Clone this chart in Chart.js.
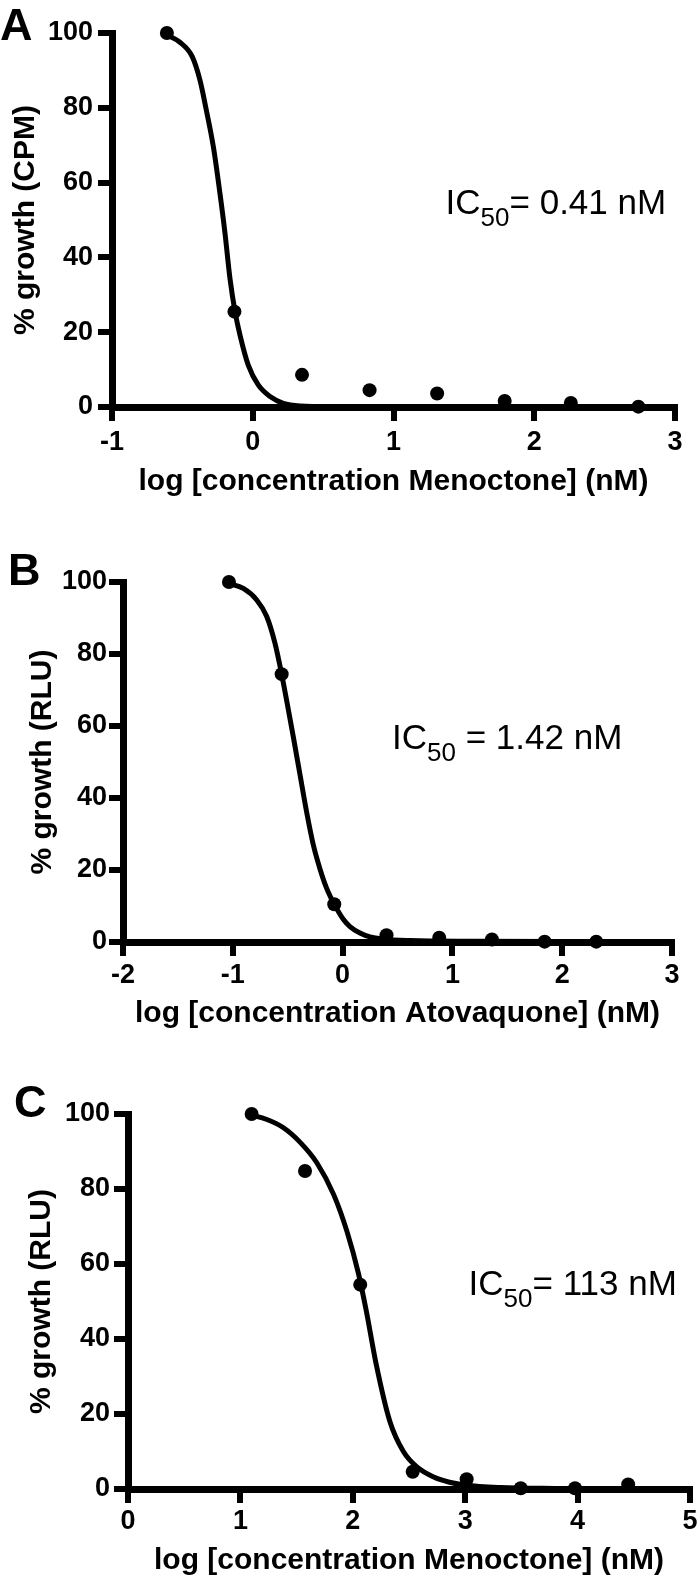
<!DOCTYPE html>
<html>
<head>
<meta charset="utf-8">
<script src="https://cdn.jsdelivr.net/npm/chart.js@4.4.1/dist/chart.umd.min.js"></script>
<style>
  body { margin: 0; background: #fff; }
  canvas { position: absolute; left: 0; }
</style>
</head>
<body>
<canvas id="chartA" width="700" height="525" style="top:0"></canvas>
<canvas id="chartB" width="700" height="525" style="top:525px"></canvas>
<canvas id="chartC" width="700" height="529" style="top:1050px"></canvas>
<script>
// ---- panel A: menoctone, CPM ----
const aDoseLog = [-0.61, -0.13, 0.35, 0.83, 1.31, 1.79, 2.26, 2.74];
const aGrowth = [100, 25.5, 8.6, 4.5, 3.6, 1.6, 1.1, 0.1];
const aFitLog = [-0.61, -0.52, -0.43, -0.375, -0.33, -0.28, -0.233, -0.197, -0.162, -0.126, -0.091, -0.032, 0.039, 0.123, 0.217, 0.336, 0.6, 1.2, 2.0, 2.74];
const aFitGrowth = [99.5, 97.6, 93.7, 87.4, 79.4, 69.6, 57.1, 46.4, 34.4, 25.5, 19.3, 11.2, 5.9, 2.8, 1.0, 0.3, 0.1, 0.05, 0.02, 0.01];
const aXTicks = [-1, 0, 1, 2, 3];

// ---- panel B: atovaquone, RLU ----
const bDoseLog = [-1.035, -0.555, -0.076, 0.40, 0.88, 1.36, 1.84, 2.31];
const bGrowth = [100, 74.4, 10.5, 1.9, 1.2, 0.7, 0.1, 0.1];
const bFitLog = [-1.035, -0.904, -0.782, -0.691, -0.616, -0.555, -0.509, -0.449, -0.388, -0.327, -0.267, -0.206, -0.145, -0.076, 0.006, 0.067, 0.158, 0.25, 0.371, 0.614, 1.2, 2.31];
const bFitGrowth = [99.6, 98.2, 95, 90.4, 83, 74.4, 67, 57, 46.5, 36, 27, 20.3, 14.9, 10.5, 6.3, 4.3, 2.5, 1.4, 0.8, 0.4, 0.2, 0.1];
const bXTicks = [-2, -1, 0, 1, 2, 3];

// ---- panel C: menoctone, RLU ----
const cDoseLog = [1.10, 1.575, 2.066, 2.533, 3.013, 3.494, 3.977, 4.45];
const cGrowth = [100, 84.8, 54.5, 4.6, 2.6, 0.2, 0.2, 1.2];
const cFitLog = [1.10, 1.23, 1.38, 1.53, 1.68, 1.83, 1.95, 2.05, 2.12, 2.21, 2.33, 2.45, 2.57, 2.72, 2.86, 3.01, 3.31, 3.8, 4.45];
const cFitGrowth = [99.7, 98.6, 96.4, 92.5, 87, 78.5, 68.5, 57.5, 47.5, 33, 18, 10, 5.9, 3.2, 1.8, 1.0, 0.4, 0.15, 0.05];
const cXTicks = [0, 1, 2, 3, 4, 5];

const yTicks = [0, 20, 40, 60, 80, 100];
const xTitles = ["log [concentration Menoctone] (nM)", "log [concentration Atovaquone] (nM)", "log [concentration Menoctone] (nM)"];
const yTitles = ["% growth (CPM)", "% growth (RLU)", "% growth (RLU)"];
const icValues = ["= 0.41 nM", " = 1.42 nM", "= 113 nM"];

const FONT = '"Liberation Sans", Arial, Helvetica, sans-serif';
Chart.defaults.font.family = FONT;
Chart.defaults.color = '#000';

// panel letter + IC50 note
const notePlugin = {
  id: 'note',
  afterDraw(chart, args, o) {
    const ctx = chart.ctx;
    ctx.save();
    ctx.fillStyle = '#000';
    ctx.textBaseline = 'alphabetic';
    ctx.font = 'bold 45px ' + FONT;
    ctx.fillText(o.letter, o.letterX, o.letterY);

    let px = chart.scales.x.getPixelForValue(o.noteX);
    const py = chart.scales.y.getPixelForValue(o.noteY) + 12.5;
    ctx.font = '35px ' + FONT;
    ctx.fillText('IC', px, py);
    px += ctx.measureText('IC').width;
    ctx.font = '26px ' + FONT;
    ctx.fillText('50', px, py + 12);
    px += ctx.measureText('50').width;
    ctx.font = '35px ' + FONT;
    ctx.fillText(o.text, px, py);
    ctx.restore();
  }
};

function toXY(xs, ys) {
  return xs.map((v, i) => ({ x: v, y: ys[i] }));
}

function makePanel(id, p) {
  new Chart(document.getElementById(id), {
    type: 'scatter',
    data: {
      datasets: [{
        data: toXY(p.doseLog, p.growth),
        pointRadius: 7,
        pointBackgroundColor: '#000',
        pointBorderWidth: 0,
        clip: false
      }, {
        data: toXY(p.fitLog, p.fitGrowth),
        showLine: true,
        pointRadius: 0,
        borderColor: '#000',
        borderWidth: 5,
        cubicInterpolationMode: 'monotone',
        clip: false
      }]
    },
    options: {
      responsive: false,
      animation: false,
      devicePixelRatio: 1,
      layout: { padding: { left: 0, top: p.top, right: p.right, bottom: 0 } },
      plugins: {
        legend: { display: false },
        tooltip: { enabled: false },
        note: p.note
      },
      scales: {
        x: {
          type: 'linear',
          min: p.xTicks[0],
          max: p.xTicks[p.xTicks.length - 1],
          afterBuildTicks: s => { s.ticks = p.xTicks.map(v => ({ value: v })); },
          afterFit: s => { s.height = p.xHeight; },
          border: { display: true, color: '#000', width: 7 },
          grid: { drawOnChartArea: false, drawTicks: true, tickLength: 14, tickWidth: 6, lineWidth: 6, color: '#000', tickColor: '#000' },
          ticks: { color: '#000', padding: p.xTickPad, maxRotation: 0, autoSkip: false, font: { size: 27, weight: 'bold' }, callback: v => String(v) },
          title: { display: true, text: p.xTitle, color: '#000', font: { size: 30, weight: 'bold' }, padding: { top: 0, bottom: p.xTitlePad } }
        },
        y: {
          type: 'linear',
          min: 0,
          max: 100,
          afterBuildTicks: s => { s.ticks = yTicks.map(v => ({ value: v })); },
          afterFit: s => { s.width = p.yWidth; },
          border: { display: true, color: '#000', width: 7 },
          grid: { drawOnChartArea: false, drawTicks: true, tickLength: 14, tickWidth: 6, lineWidth: 6, color: '#000', tickColor: '#000' },
          ticks: { color: '#000', padding: p.yTickPad, font: { size: 27, weight: 'bold' }, callback: v => String(v) },
          title: { display: true, text: p.yTitle, color: '#000', font: { size: 30, weight: 'bold' }, padding: { top: p.yTitlePad, bottom: 0 } }
        }
      }
    },
    plugins: [notePlugin]
  });
}

makePanel('chartA', {
  doseLog: aDoseLog, growth: aGrowth, fitLog: aFitLog, fitGrowth: aFitGrowth, xTicks: aXTicks,
  xTitle: xTitles[0], yTitle: yTitles[0],
  top: 33, right: 25, yWidth: 112, xHeight: 118,
  xTickPad: 5, yTickPad: 5, xTitlePad: 25, yTitlePad: 8,
  note: { letter: 'A', letterX: 0, letterY: 40, noteX: 1.37, noteY: 55, text: icValues[0] }
});

makePanel('chartB', {
  doseLog: bDoseLog, growth: bGrowth, fitLog: bFitLog, fitGrowth: bFitGrowth, xTicks: bXTicks,
  xTitle: xTitles[1], yTitle: yTitles[1],
  top: 57, right: 28, yWidth: 123, xHeight: 108,
  xTickPad: 3.5, yTickPad: 2, xTitlePad: 18, yTitlePad: 25,
  note: { letter: 'B', letterX: 8, letterY: 60, noteX: 0.45, noteY: 57, text: icValues[1] }
});

makePanel('chartC', {
  doseLog: cDoseLog, growth: cGrowth, fitLog: cFitLog, fitGrowth: cFitGrowth, xTicks: cXTicks,
  xTitle: xTitles[2], yTitle: yTitles[2],
  top: 64, right: 10, yWidth: 128, xHeight: 90,
  xTickPad: 2, yTickPad: 4, xTitlePad: 0, yTitlePad: 24,
  note: { letter: 'C', letterX: 14, letterY: 67, noteX: 3.03, noteY: 55, text: icValues[2] }
});
</script>
</body>
</html>
